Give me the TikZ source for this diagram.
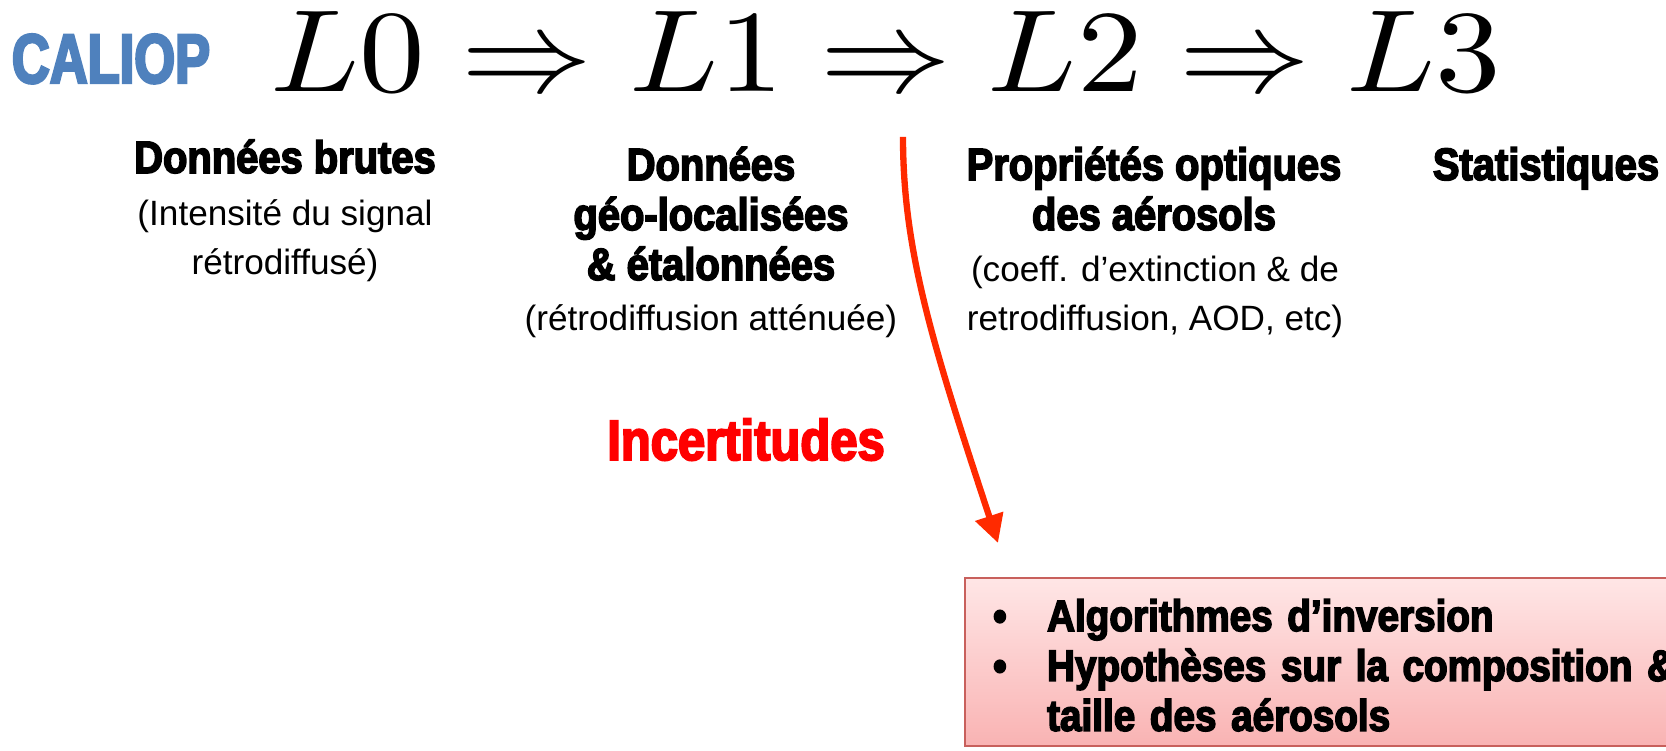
\documentclass[tikz,border=0pt]{standalone}
\usepackage{fontspec}
\usepackage{graphicx}
\usepackage{xcolor}
\usepackage{tikz}
\usetikzlibrary{arrows.meta}

\newfontfamily\headfont{Liberation Sans}[UprightFont=* Bold,FakeStretch=0.88,FakeBold=3.5]
\newfontfamily\caliopfont{Liberation Sans}[UprightFont=* Bold,FakeStretch=0.75,FakeBold=3.5]
\newfontfamily\incfont{Liberation Sans}[UprightFont=* Bold,FakeStretch=0.86,FakeBold=3.5]
\newfontfamily\subfont{Liberation Sans}

\definecolor{caliopblue}{HTML}{4F81BD}
\definecolor{arrowred}{HTML}{FF2A00}
\definecolor{boxline}{HTML}{C8605C}
\definecolor{boxtop}{HTML}{FFE6E6}
\definecolor{boxbottom}{HTML}{F9B3B3}

\begin{document}
\begin{tikzpicture}[x=0.1mm,y=-0.1mm,
    head/.style={font=\headfont\fontsize{12.9}{14.2}\selectfont, align=center, inner sep=0pt, anchor=base},
    sub/.style={font=\subfont\fontsize{10}{14.2}\selectfont, align=center, inner sep=0pt, anchor=base},
    errbox/.style={draw=boxline, line width=0.6pt, top color=boxtop, bottom color=boxbottom,
        inner xsep=8pt, inner ysep=0pt, text width=78mm, anchor=north west, align=left}]
        \useasboundingbox (0,0) rectangle (1666,751);
        \clip (0,0) rectangle (1666,751);

        \node[font=\caliopfont\fontsize{19.9}{24}\selectfont, text=caliopblue, anchor=base, inner sep=0pt] (caliop) at (111,83) {CALIOP};
        \node[anchor=base, inner sep=0pt] (levels) at (886,92) {\scalebox{3.73}[3.33]{$L0 \Rightarrow L1 \Rightarrow L2 \Rightarrow L3$}};

        \node[head] (l0head) at (285,173) {Données brutes};
        \node[sub] (l0sub) at (285,275) {(Intensité du signal\\rétrodiffusé)};

        \node[head] (l1head) at (711,280) {Données\\géo-localisées\\\& étalonnées};
        \node[sub] (l1sub) at (711,331) {(rétrodiffusion atténuée)};

        \node[head] (l2head) at (1154,230) {Propriétés optiques\\des aérosols};
        \node[sub] (l2sub) at (1155,331) {(coeff. d’extinction \& de\\retrodiffusion, AOD, etc)};

        \node[head] (l3head) at (1546,180) {Statistiques};

        \node[font=\incfont\fontsize{16.2}{20}\selectfont, text=red, anchor=base, inner sep=0pt] (uncert) at (746,460) {Incertitudes};

        \node[errbox, font=\headfont\fontsize{12.5}{14.2}\selectfont] (errs) at (964,577) {\begin{tabular}{@{}l@{}l@{}}
            \rule{0pt}{5.3mm}\makebox[5.4mm][l]{\textbullet} & Algorithmes d’inversion\\
            \makebox[5.4mm][l]{\textbullet} & Hypothèses sur la composition \&\\
            & taille des aérosols
        \end{tabular}};

        \coordinate (arrowstart) at (903,137);
        \coordinate (arrowtip) at (998,543);
        \draw[arrowred, line width=1.8pt, -{Triangle[length=8pt,width=8pt]}] (arrowstart) .. controls (903,250) and (932,343) .. (arrowtip);
    \end{tikzpicture}
\end{document}
